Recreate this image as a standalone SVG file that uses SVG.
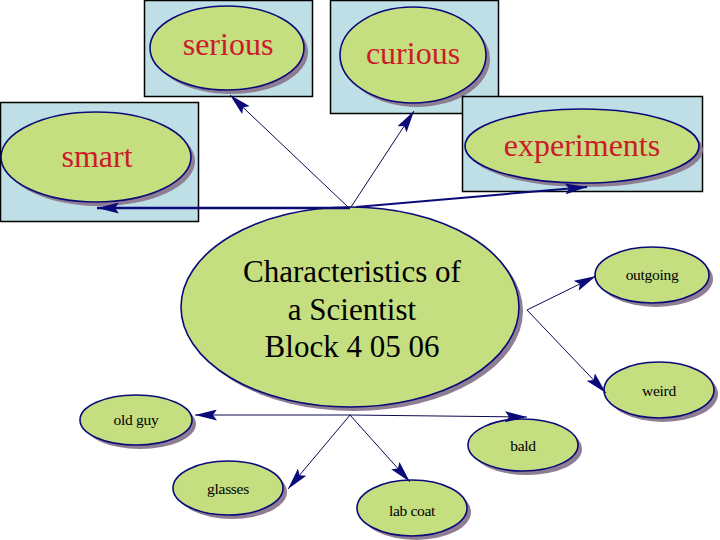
<svg xmlns="http://www.w3.org/2000/svg" width="720" height="540" viewBox="0 0 720 540">
<style>
.box{fill:#bddfe5;stroke:#000;stroke-width:1.5}
.sh{fill:#8e7d93}
.el{fill:#c4de80;stroke:#0a0a78;stroke-width:1.6}
text{text-anchor:middle;font-family:"Liberation Serif","Times New Roman",serif}
.red{font-size:32px;fill:#cc1a2a}
.big{font-size:31px;fill:#000}
.sm{font-size:15.5px;fill:#000;letter-spacing:-0.3px}
.c{stroke:#0a0a50;stroke-width:1;fill:none;marker-end:url(#ah)}
</style>
<defs>
<marker id="ah" markerUnits="userSpaceOnUse" markerWidth="22" markerHeight="11" viewBox="0 0 22 11" refX="22" refY="5.5" orient="auto">
<path d="M0,0 L22,5.5 L0,11 L4,5.5 z" fill="#0a0a78"/>
</marker>
</defs>
<rect width="720" height="540" fill="#fff"/>
<g id="serious">
<rect class="box" x="144.5" y="0.5" width="168" height="96"/>
<ellipse class="sh" cx="231" cy="52" rx="77" ry="42"/>
<ellipse class="el" cx="227" cy="48" rx="77" ry="42"/>
<text class="red" x="228" y="55">serious</text>
</g>
<g id="curious">
<rect class="box" x="330.5" y="0.5" width="168" height="113"/>
<ellipse class="sh" cx="417" cy="59" rx="73" ry="48"/>
<ellipse class="el" cx="413" cy="55" rx="73" ry="48"/>
<text class="red" x="413" y="64">curious</text>
</g>
<g id="smart">
<rect class="box" x="0.5" y="102.5" width="198" height="119"/>
<ellipse class="sh" cx="100" cy="161" rx="95" ry="45"/>
<ellipse class="el" cx="96" cy="157" rx="95" ry="45"/>
<text class="red" x="97" y="167">smart</text>
</g>
<g id="experiments">
<rect class="box" x="462.5" y="96.5" width="240" height="95"/>
<ellipse class="sh" cx="586" cy="150" rx="117" ry="37"/>
<ellipse class="el" cx="582" cy="146" rx="117" ry="37"/>
<text class="red" x="582" y="156">experiments</text>
</g>
<g id="center">
<ellipse class="sh" cx="354" cy="311" rx="169" ry="100"/>
<ellipse class="el" cx="350" cy="307" rx="169" ry="100"/>
<text class="big" x="352" y="282">Characteristics of</text>
<text class="big" x="352" y="320">a Scientist</text>
<text class="big" x="352" y="357">Block 4 05 06</text>
</g>
<g id="outgoing">
<ellipse class="sh" cx="656" cy="279" rx="57" ry="28"/>
<ellipse class="el" cx="652" cy="275" rx="57" ry="28"/>
<text class="sm" x="652" y="280">outgoing</text>
</g>
<g id="weird">
<ellipse class="sh" cx="663" cy="394" rx="55" ry="28"/>
<ellipse class="el" cx="659" cy="390" rx="55" ry="28"/>
<text class="sm" x="659" y="396">weird</text>
</g>
<g id="oldguy">
<ellipse class="sh" cx="140" cy="424" rx="56" ry="25"/>
<ellipse class="el" cx="136" cy="420" rx="56" ry="25"/>
<text class="sm" x="136" y="425">old guy</text>
</g>
<g id="bald">
<ellipse class="sh" cx="527" cy="449" rx="55" ry="26"/>
<ellipse class="el" cx="523" cy="445" rx="55" ry="26"/>
<text class="sm" x="523" y="451">bald</text>
</g>
<g id="glasses">
<ellipse class="sh" cx="232" cy="492" rx="55" ry="27"/>
<ellipse class="el" cx="228" cy="488" rx="55" ry="27"/>
<text class="sm" x="228" y="494">glasses</text>
</g>
<g id="labcoat">
<ellipse class="sh" cx="416" cy="512" rx="55" ry="28"/>
<ellipse class="el" cx="412" cy="508" rx="55" ry="28"/>
<text class="sm" x="412" y="516">lab coat</text>
</g>
<g id="connectors">
<line class="c" x1="348" y1="207" x2="230" y2="95"/>
<line class="c" x1="351" y1="207" x2="414" y2="111"/>
<line class="c" x1="350" y1="208" x2="97" y2="208" style="stroke-width:2.5;stroke:#0a0a78"/>
<line class="c" x1="356" y1="207" x2="587" y2="187" style="stroke-width:2;stroke:#0a0a78"/>
<line class="c" x1="527" y1="310" x2="596" y2="276"/>
<line class="c" x1="527" y1="310" x2="606" y2="393"/>
<line class="c" x1="350" y1="415" x2="195" y2="415"/>
<line class="c" x1="350" y1="415" x2="527" y2="417"/>
<line class="c" x1="350" y1="415" x2="288" y2="489"/>
<line class="c" x1="350" y1="415" x2="410" y2="482"/>
</g>
</svg>
